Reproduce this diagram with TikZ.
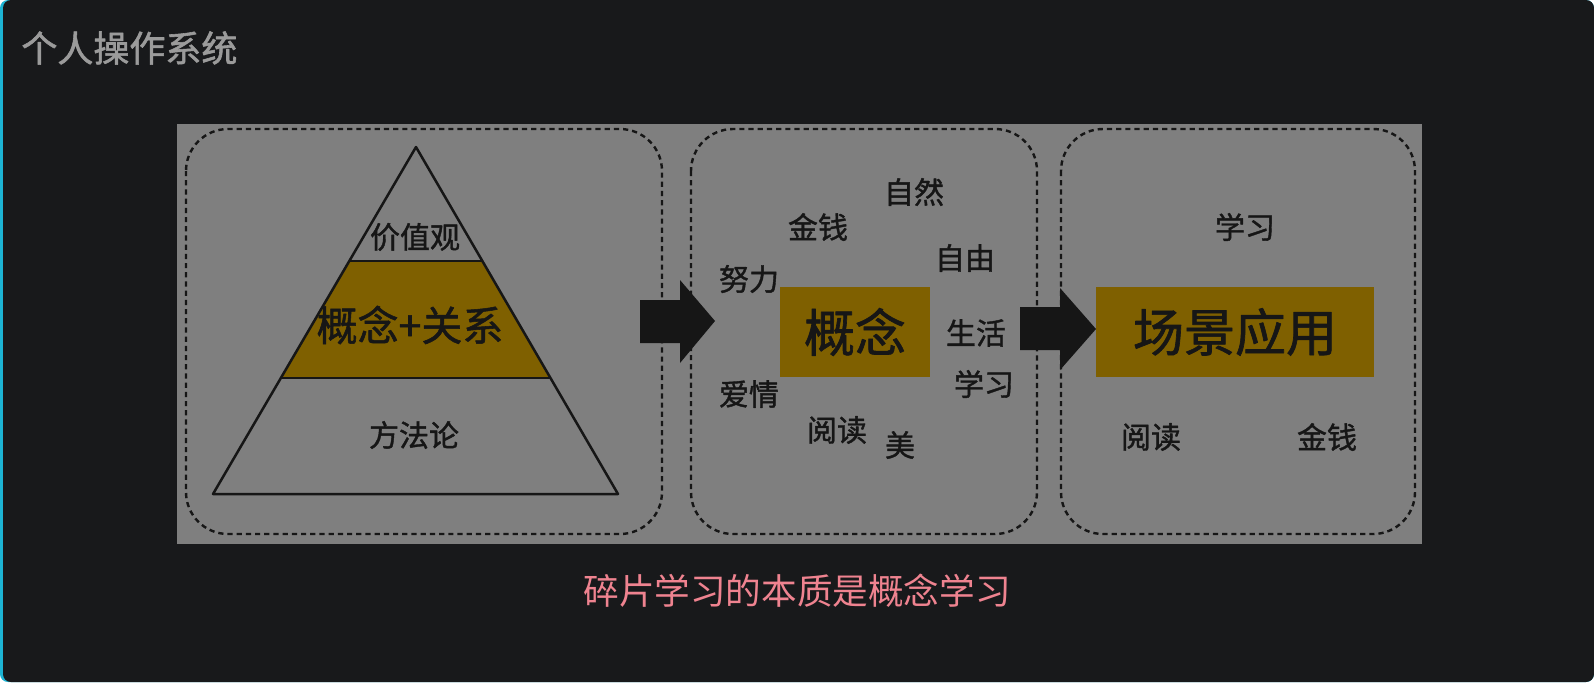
\documentclass[tikz,border=0pt]{standalone}
\usepackage{fontspec}
\setmainfont{Noto Sans CJK SC}
\newfontfamily\heavycjk[FakeBold=1.3]{Noto Sans CJK SC}
\newfontfamily\titlecjk[FakeBold=1.6]{Noto Sans CJK SC}
\usepackage{tikz}
\usetikzlibrary{calc, positioning}

\definecolor{cardbg}{HTML}{18191B}
\definecolor{cyanbar}{HTML}{1DB4D4}
\definecolor{panelgray}{HTML}{7F7F7F}
\definecolor{gold}{HTML}{7F6000}
\definecolor{inkdark}{HTML}{161616}
\definecolor{titlegray}{HTML}{9B9B9B}
\definecolor{notepink}{HTML}{EF8390}

\begin{document}
\begin{tikzpicture}[x=0.5pt, y=-0.5pt, line join=round,
    word/.style={text=inkdark, inner sep=0pt, font=\heavycjk\fontsize{15}{15}\selectfont},
    bigword/.style={text=inkdark, inner sep=0pt, font=\heavycjk\fontsize{25.5}{25.5}\selectfont},
    dashbox/.style={draw=inkdark, line width=1.2pt, dash pattern=on 2.6pt off 2pt, rounded corners=21pt},
    goldbox/.style={fill=gold, inner sep=0pt, minimum height=45pt},
    blockarrow/.style={fill=inkdark}]

    \useasboundingbox (0,0) rectangle (1594,682);

    % 卡片背景
    \fill[white] (0,0) rectangle (1594,682);
    \fill[cyanbar, rounded corners=4pt] (0,0) rectangle (1594,682);
    \fill[cardbg, rounded corners=4pt] (3,0) rectangle (1594,682);

    % 标题
    \node[anchor=west, text=titlegray, inner sep=0pt, font=\titlecjk\fontsize{18}{18}\selectfont] (title) at (21,48) {个人操作系统};

    % 灰色图片区域
    \fill[panelgray] (177,124) rectangle (1422,544);

    % 三个虚线框
    \draw[dashbox] (186,129) rectangle (662,534);
    \draw[dashbox] (691,129) rectangle (1037,534);
    \draw[dashbox] (1061,129) rectangle (1415,534);

    % 金字塔
    \coordinate (apex) at (416,147);
    \coordinate (baseL) at (213,494);
    \coordinate (baseR) at (618,494);
    \coordinate (upL) at ($(apex)!0.3285!(baseL)$);
    \coordinate (upR) at ($(apex)!0.3285!(baseR)$);
    \coordinate (loL) at ($(apex)!0.6657!(baseL)$);
    \coordinate (loR) at ($(apex)!0.6657!(baseR)$);
    \fill[gold] (upL) -- (upR) -- (loR) -- (loL) -- cycle;
    \draw[inkdark, line width=1.25pt] (apex) -- (baseR) -- (baseL) -- cycle;
    \draw[inkdark, line width=1.25pt] (upL) -- (upR);
    \draw[inkdark, line width=1.25pt] (loL) -- (loR);
    \node[word] (values) at (415,237) {价值观};
    \node[word, font=\heavycjk\fontsize{20.5}{20.5}\selectfont] (concrel) at (410,325) {概念+关系};
    \node[word] (method) at (414,435) {方法论};

    % 中间：概念
    \node[goldbox, minimum width=75pt, bigword] (concept) at (855,332) {概念};
    \node[word] (nature) at (914,192) {自然};
    \node[word] (money) at (818,227) {金钱};
    \node[word] (freedom) at (965,258) {自由};
    \node[word] (effort) at (749,279) {努力};
    \node[word] (life) at (976,333) {生活};
    \node[word] (study) at (984,384) {学习};
    \node[word] (love) at (749,394) {爱情};
    \node[word] (reading) at (837,430) {阅读};
    \node[word] (beauty) at (900,445) {美};

    % 右边：场景应用
    \node[goldbox, minimum width=139pt, bigword] (scene) at (1235,332) {场景应用};
    \node[word] (study2) at (1245,227) {学习};
    \node[word] (reading2) at (1151,437) {阅读};
    \node[word] (money2) at (1327,437) {金钱};

    % 粗箭头
    \fill[blockarrow] (640,300) -- (680,300) -- (680,280) -- (715,321) -- (680,363) -- (680,343) -- (640,343) -- cycle;
    \fill[blockarrow] (1020,307) -- (1060,307) -- (1060,288) -- (1096,329) -- (1060,370) -- (1060,350) -- (1020,350) -- cycle;

    % 说明文字
    \node[text=notepink, inner sep=0pt, font=\fontsize{17.8}{17.8}\selectfont] (caption) at (797,591) {碎片学习的本质是概念学习};

\end{tikzpicture}
\end{document}
